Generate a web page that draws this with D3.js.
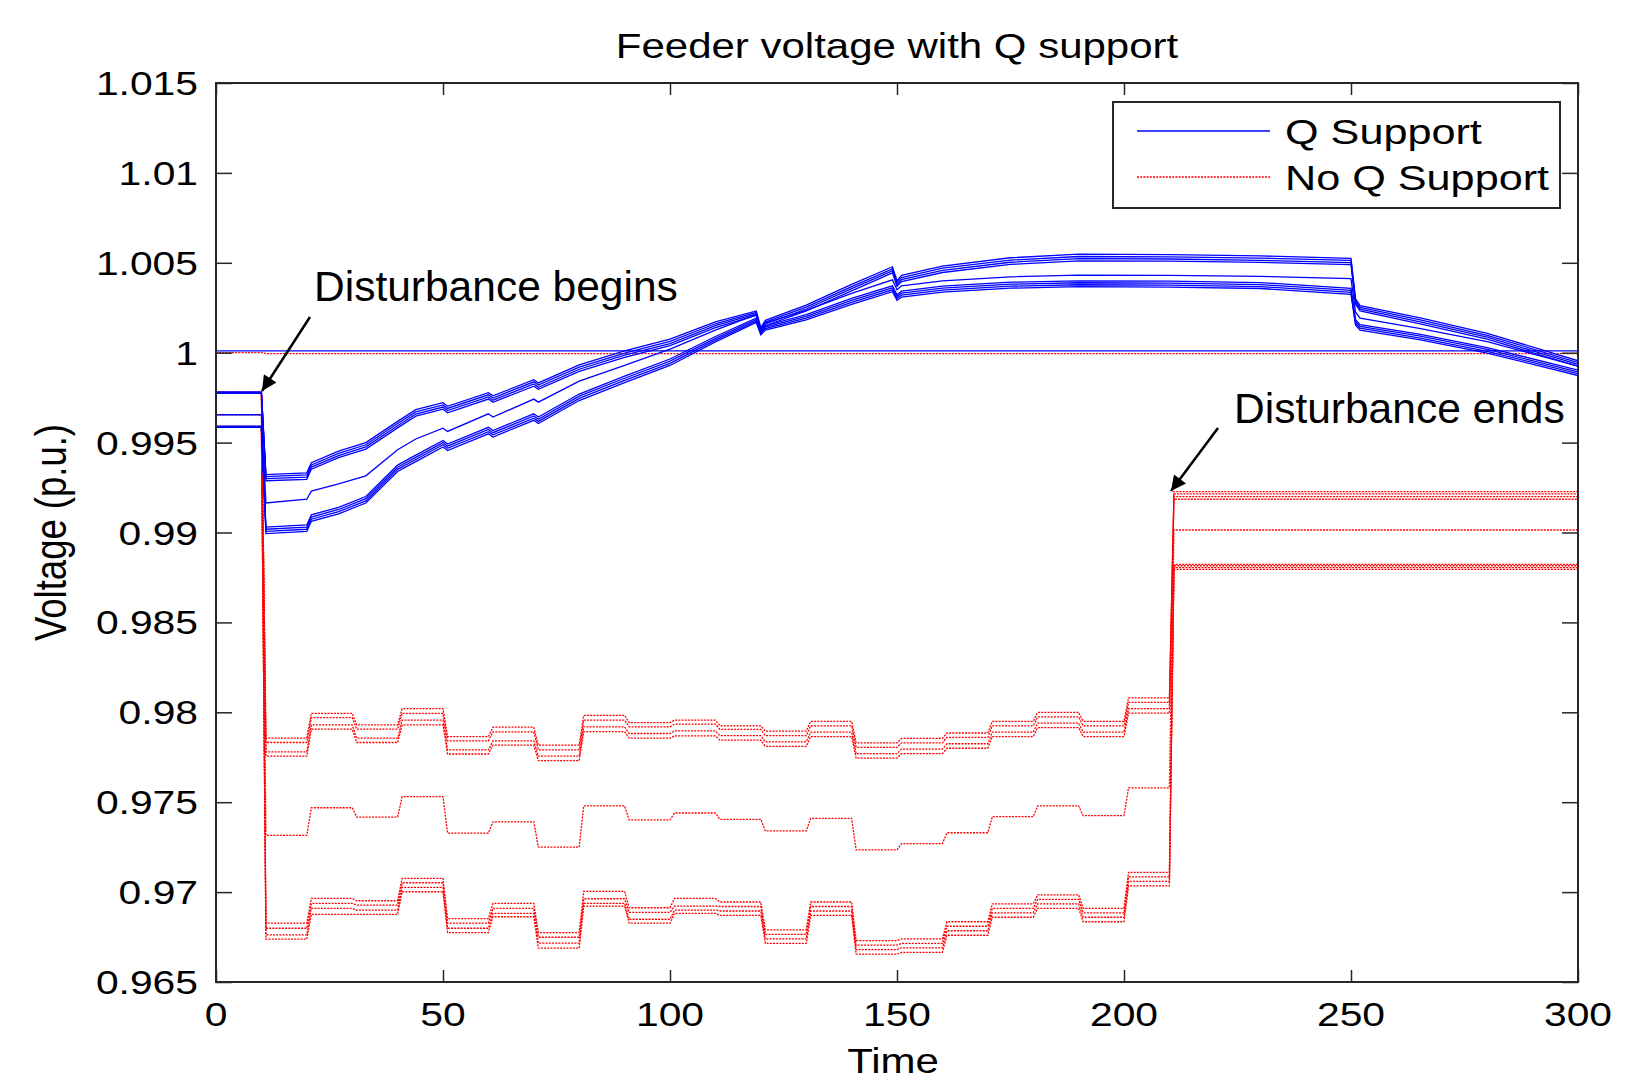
<!DOCTYPE html>
<html>
<head>
<meta charset="utf-8">
<script src="https://cdn.jsdelivr.net/npm/d3@7"></script>
<style>
  html, body { margin: 0; padding: 0; background: #fff; }
  svg { display: block; }
  text { font-family: "Liberation Sans", Arial, sans-serif; fill: #000; }
</style>
</head>
<body>
<div id="chart"></div>
<script>
// Feeder voltage with Q support
var X_TICKS = [0, 50, 100, 150, 200, 250, 300]
var Y_TICKS = [0.965, 0.97, 0.975, 0.98, 0.985, 0.99, 0.995, 1, 1.005, 1.01, 1.015]
var Y_LABELS = ['0.965', '0.97', '0.975', '0.98', '0.985', '0.99', '0.995', '1', '1.005', '1.01', '1.015']

// Q support (blue) - sampled times
var T_BLUE = [0, 10, 11, 20, 21, 27, 33, 40, 44, 50, 51, 60, 61, 70, 71, 80, 90, 100, 110, 119, 120, 121, 130, 140, 149, 150, 151, 160, 175, 190, 210, 230, 250, 251, 252, 265, 280, 300]
var T_SUB = [0, 300]

var blueA1 = [.99780, .99780, .99322, .99332, .99388, .99452, .99500, .99618, .99683, .99722, .99702, .99778, .99760, .99850, .99832, .99932, 1.00010, 1.00075, 1.00172, 1.00232, 1.00140, 1.00180, 1.00265, 1.00380, 1.00478, 1.00400, 1.00430, 1.00482, 1.00528, 1.00548, 1.00545, 1.00538, 1.00525, 1.00300, 1.00262, 1.00195, 1.00108, .99955]
var blueA2 = [.99780, .99780, .99311, .99320, .99376, .99440, .99488, .99606, .99671, .99710, .99690, .99766, .99748, .99838, .99820, .99920, .99998, 1.00063, 1.00161, 1.00224, 1.00132, 1.00170, 1.00254, 1.00368, 1.00466, 1.00390, 1.00418, 1.00470, 1.00515, 1.00535, 1.00533, 1.00526, 1.00513, 1.00290, 1.00252, 1.00184, 1.00097, .99945]
var blueA3 = [.99775, .99775, .99300, .99308, .99364, .99428, .99476, .99594, .99659, .99698, .99678, .99754, .99736, .99826, .99808, .99908, .99986, 1.00051, 1.00150, 1.00216, 1.00125, 1.00160, 1.00243, 1.00356, 1.00455, 1.00380, 1.00407, 1.00458, 1.00503, 1.00523, 1.00521, 1.00514, 1.00501, 1.00280, 1.00242, 1.00173, 1.00086, .99935]
var blueA4 = [.99775, .99775, .99288, .99296, .99352, .99416, .99464, .99582, .99647, .99686, .99666, .99742, .99724, .99814, .99796, .99896, .99974, 1.00039, 1.00140, 1.00208, 1.00118, 1.00150, 1.00232, 1.00344, 1.00444, 1.00370, 1.00396, 1.00446, 1.00491, 1.00511, 1.00509, 1.00502, 1.00490, 1.00270, 1.00232, 1.00162, 1.00075, .99925]
var blueM  = [.99655, .99655, .99164, .99185, .99230, .99270, .99315, .99460, .99520, .99580, .99562, .99660, .99642, .99742, .99725, .99842, .99930, 1.00020, 1.00125, 1.00212, 1.00130, 1.00165, 1.00235, 1.00330, 1.00405, 1.00350, 1.00372, 1.00400, 1.00422, 1.00432, 1.00430, 1.00425, 1.00412, 1.00225, 1.00192, 1.00135, 1.00062, .99925]
var blueC1 = [.99590, .99590, .99030, .99042, .99098, .99140, .99200, .99375, .99430, .99512, .99492, .99585, .99567, .99660, .99642, .99770, .99870, .99965, 1.00090, 1.00192, 1.00120, 1.00150, 1.00212, 1.00302, 1.00372, 1.00322, 1.00342, 1.00370, 1.00392, 1.00400, 1.00398, 1.00390, 1.00358, 1.00183, 1.00156, 1.00103, 1.00028, .99903]
var blueC2 = [.99590, .99590, .99018, .99030, .99086, .99128, .99188, .99363, .99418, .99500, .99480, .99573, .99555, .99648, .99630, .99758, .99858, .99953, 1.00080, 1.00184, 1.00113, 1.00142, 1.00202, 1.00291, 1.00361, 1.00312, 1.00331, 1.00359, 1.00381, 1.00389, 1.00387, 1.00379, 1.00347, 1.00173, 1.00146, 1.00093, 1.00018, .99893]
var blueC3 = [.99585, .99585, .99006, .99018, .99074, .99116, .99176, .99351, .99406, .99488, .99468, .99561, .99543, .99636, .99618, .99746, .99846, .99941, 1.00070, 1.00176, 1.00106, 1.00134, 1.00192, 1.00280, 1.00350, 1.00302, 1.00320, 1.00348, 1.00370, 1.00378, 1.00376, 1.00368, 1.00336, 1.00163, 1.00136, 1.00083, 1.00008, .99883]
var blueC4 = [.99585, .99585, .98994, .99006, .99062, .99104, .99164, .99339, .99394, .99476, .99456, .99549, .99531, .99624, .99606, .99734, .99834, .99929, 1.00060, 1.00168, 1.00099, 1.00126, 1.00182, 1.00269, 1.00339, 1.00292, 1.00309, 1.00337, 1.00359, 1.00367, 1.00365, 1.00357, 1.00325, 1.00153, 1.00126, 1.00073, .99998, .99873]
var blueSub = [1.0001, 1.0001]

// No Q support (red) - step levels: before 10, each 10 s from 10 to 210, after 210
var T_STEPS = [10, 20, 30, 40, 50, 60, 70, 80, 90, 100, 110, 120, 130, 140, 150, 160, 170, 180, 190, 200, 210]

var redU1 = [.99780, .97856, .97994, .97930, .98020, .97865, .97917, .97817, .97983, .97943, .97956, .97925, .97895, .97950, .97830, .97855, .97885, .97950, .98000, .97950, .98080, .99227]
var redU2 = [.99780, .97832, .97970, .97906, .97994, .97841, .97891, .97791, .97956, .97919, .97934, .97905, .97870, .97925, .97805, .97830, .97860, .97925, .97975, .97925, .98055, .99215]
var redU3 = [.99775, .97780, .97930, .97856, .97956, .97791, .97841, .97756, .97919, .97882, .97897, .97870, .97835, .97890, .97770, .97795, .97825, .97890, .97940, .97890, .98020, .99200]
var redU4 = [.99775, .97756, .97906, .97832, .97930, .97768, .97817, .97731, .97893, .97856, .97869, .97845, .97810, .97865, .97745, .97770, .97800, .97865, .97915, .97865, .97995, .99185]
var redM  = [.99655, .97315, .97469, .97417, .97531, .97328, .97391, .97250, .97480, .97402, .97440, .97405, .97340, .97410, .97235, .97270, .97330, .97420, .97480, .97425, .97580, .99014]
var redL1 = [.99590, .96827, .96965, .96952, .97076, .96852, .96937, .96775, .97004, .96913, .96965, .96945, .96790, .96945, .96730, .96740, .96835, .96935, .96985, .96910, .97110, .98823]
var redL2 = [.99590, .96799, .96937, .96928, .97052, .96827, .96910, .96749, .96963, .96887, .96922, .96920, .96765, .96920, .96705, .96715, .96810, .96910, .96960, .96885, .97085, .98815]
var redL3 = [.99585, .96762, .96910, .96900, .97026, .96799, .96882, .96716, .96937, .96849, .96900, .96895, .96740, .96895, .96680, .96690, .96785, .96885, .96935, .96860, .97060, .98805]
var redL4 = [.99585, .96738, .96876, .96876, .97002, .96775, .96863, .96688, .96922, .96827, .96882, .96870, .96715, .96870, .96655, .96665, .96760, .96860, .96910, .96835, .97035, .98795]
var redSub = [1.0000, .99995, .99995, .99995, .99995, .99995, .99995, .99995, .99995, .99995, .99995, .99995, .99995, .99995, .99995, .99995, .99995, .99995, .99995, .99995, .99995, .99995]

var BLUE_SERIES = [
  { t: T_SUB, v: blueSub },
  { t: T_BLUE, v: blueA1 }, { t: T_BLUE, v: blueA2 }, { t: T_BLUE, v: blueA3 }, { t: T_BLUE, v: blueA4 },
  { t: T_BLUE, v: blueM },
  { t: T_BLUE, v: blueC1 }, { t: T_BLUE, v: blueC2 }, { t: T_BLUE, v: blueC3 }, { t: T_BLUE, v: blueC4 }
]
var RED_SERIES = [redSub, redU1, redU2, redU3, redU4, redM, redL1, redL2, redL3, redL4]

;(function() {
  var
    WIDTH = 1651,
    HEIGHT = 1079,
    LEFT = 216,
    RIGHT = 1578,
    TOP = 83,
    BOTTOM = 982,
    STRETCH = 1.2   // the original figure was stretched sideways

  var svg = d3.select('#chart').append('svg')
    .attr('width', WIDTH)
    .attr('height', HEIGHT)

  var x = d3.scaleLinear().domain([0, 300]).range([LEFT, RIGHT])
  var y = d3.scaleLinear().domain([0.965, 1.015]).range([BOTTOM, TOP])

  var defs = svg.append('defs')
  defs.append('clipPath').attr('id', 'plot-clip')
    .append('rect')
    .attr('x', LEFT).attr('y', TOP)
    .attr('width', RIGHT - LEFT).attr('height', BOTTOM - TOP)

  var lineG = svg.append('g').attr('clip-path', 'url(#plot-clip)')

  var line = d3.line()
    .x(function(d) { return x(d[0]) })
    .y(function(d) { return y(d[1]) })

  // red step series: 1 s ramp after every switching instant
  function stepPoints(levels) {
    var pts = [[0, levels[0]]]
    T_STEPS.forEach(function(t, i) {
      pts.push([t, levels[i]])
      pts.push([t + 1, levels[i + 1]])
    })
    pts.push([300, levels[levels.length - 1]])
    return pts
  }

  lineG.selectAll('.red-line')
    .data(RED_SERIES)
    .enter()
    .append('path')
    .attr('class', 'red-line')
    .attr('d', function(d) { return line(stepPoints(d)) })
    .attr('fill', 'none')
    .attr('stroke', '#ff0000')
    .attr('stroke-width', 1.3)
    .attr('stroke-dasharray', '2 1.2')

  lineG.selectAll('.blue-line')
    .data(BLUE_SERIES)
    .enter()
    .append('path')
    .attr('class', 'blue-line')
    .attr('d', function(d) { return line(d.v.map(function(v, i) { return [d.t[i], v] })) })
    .attr('fill', 'none')
    .attr('stroke', '#0000ff')
    .attr('stroke-width', 1.3)

  // axes: MATLAB style inward ticks on all four sides
  var axisColor = '#262626'
  function styleAxis(g) {
    g.select('.domain').remove()
    g.selectAll('.tick line').attr('stroke', axisColor).attr('stroke-width', 1.5)
  }
  svg.append('g').attr('transform', 'translate(0,' + BOTTOM + ')')
    .call(d3.axisBottom(x).tickValues(X_TICKS).tickSize(-12).tickFormat('')).call(styleAxis)
  svg.append('g').attr('transform', 'translate(0,' + TOP + ')')
    .call(d3.axisTop(x).tickValues(X_TICKS).tickSize(-12).tickFormat('')).call(styleAxis)
  svg.append('g').attr('transform', 'translate(' + LEFT + ',0)')
    .call(d3.axisLeft(y).tickValues(Y_TICKS).tickSize(-16).tickFormat('')).call(styleAxis)
  svg.append('g').attr('transform', 'translate(' + RIGHT + ',0)')
    .call(d3.axisRight(y).tickValues(Y_TICKS).tickSize(-16).tickFormat('')).call(styleAxis)

  svg.append('rect')
    .attr('x', LEFT).attr('y', TOP)
    .attr('width', RIGHT - LEFT).attr('height', BOTTOM - TOP)
    .attr('fill', 'none')
    .attr('stroke', axisColor)
    .attr('stroke-width', 2)

  svg.selectAll('.x-label')
    .data(X_TICKS)
    .enter()
    .append('text')
    .attr('class', 'x-label')
    .attr('text-anchor', 'middle')
    .attr('font-size', 34)
    .attr('transform', function(d) { return 'translate(' + x(d) + ',1026) scale(' + STRETCH + ',1)' })
    .text(function(d) { return d })

  svg.selectAll('.y-label')
    .data(Y_TICKS)
    .enter()
    .append('text')
    .attr('class', 'y-label')
    .attr('text-anchor', 'end')
    .attr('font-size', 34)
    .attr('transform', function(d) { return 'translate(198,' + (y(d) + 12) + ') scale(' + STRETCH + ',1)' })
    .text(function(d, i) { return Y_LABELS[i] })

  svg.append('text')
    .attr('text-anchor', 'middle')
    .attr('font-size', 35)
    .attr('transform', 'translate(' + (LEFT + RIGHT) / 2 + ',58) scale(' + STRETCH + ',1)')
    .text('Feeder voltage with Q support')

  svg.append('text')
    .attr('text-anchor', 'middle')
    .attr('font-size', 35)
    .attr('transform', 'translate(893,1073) scale(' + STRETCH + ',1)')
    .text('Time')

  svg.append('text')
    .attr('text-anchor', 'middle')
    .attr('font-size', 36.5)
    .attr('transform', 'translate(66,' + (TOP + BOTTOM) / 2 + ') scale(' + STRETCH + ',1) rotate(-90)')
    .text('Voltage (p.u.)')

  // legend
  var legend = svg.append('g')
  legend.append('rect')
    .attr('x', 1113).attr('y', 102)
    .attr('width', 447).attr('height', 106)
    .attr('fill', '#fff')
    .attr('stroke', axisColor)
    .attr('stroke-width', 2)
  var legendItems = [
    { label: 'Q Support', color: '#0000ff', dash: null, y: 131 },
    { label: 'No Q Support', color: '#ff0000', dash: '2 1.2', y: 177 }
  ]
  legendItems.forEach(function(item) {
    legend.append('line')
      .attr('x1', 1137).attr('x2', 1270)
      .attr('y1', item.y).attr('y2', item.y)
      .attr('stroke', item.color)
      .attr('stroke-width', 1.3)
      .attr('stroke-dasharray', item.dash)
    legend.append('text')
      .attr('font-size', 36)
      .attr('transform', 'translate(1285,' + (item.y + 13) + ') scale(' + STRETCH + ',1)')
      .text(item.label)
  })

  // annotations
  defs.append('marker')
    .attr('id', 'arrow-head')
    .attr('viewBox', '0 0 10 10')
    .attr('refX', 10).attr('refY', 5)
    .attr('markerWidth', 8).attr('markerHeight', 6)
    .attr('markerUnits', 'strokeWidth')
    .attr('orient', 'auto')
    .append('path')
    .attr('d', 'M0,0 L10,5 L0,10 z')
    .attr('fill', '#000')

  var notes = [
    { text: 'Disturbance begins', tx: 314, ty: 301, from: [310, 317], to: [262, 391] },
    { text: 'Disturbance ends', tx: 1234, ty: 423, from: [1218, 428], to: [1171, 491] }
  ]
  notes.forEach(function(n) {
    svg.append('text')
      .attr('x', n.tx).attr('y', n.ty)
      .attr('font-size', 42.5)
      .text(n.text)
    svg.append('line')
      .attr('x1', n.from[0]).attr('y1', n.from[1])
      .attr('x2', n.to[0]).attr('y2', n.to[1])
      .attr('stroke', '#000')
      .attr('stroke-width', 2.5)
      .attr('marker-end', 'url(#arrow-head)')
  })
})()
</script>
</body>
</html>
